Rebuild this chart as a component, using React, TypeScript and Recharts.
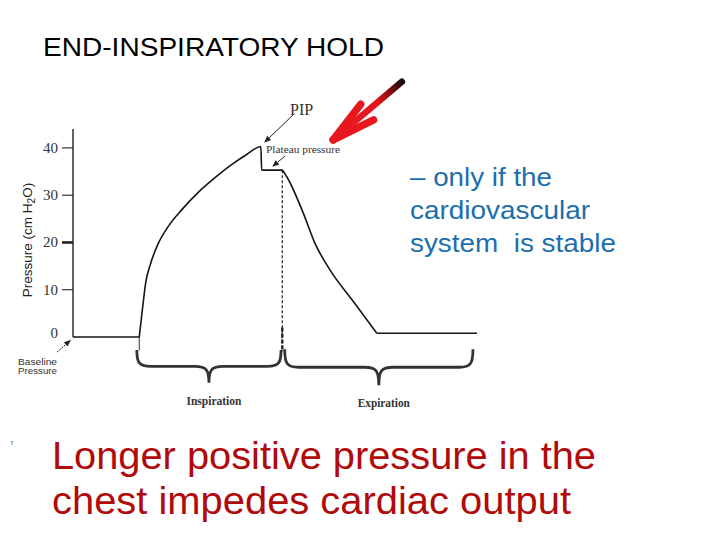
import React from 'react';
import { LineChart, Line, XAxis, YAxis, ReferenceLine, ReferenceArea } from 'recharts';

// ---- data (time in arbitrary units, pressure in cm H2O) ----
const timeValues = [0, 16.4, 17.2, 18.0, 19.2, 21.0, 23.5, 27.0, 31.0, 35.0, 39.0, 43.0, 46.5, 46.7, 51.7, 52.9, 57.0, 59.9, 63.6, 69.4, 75.2, 100];
const pressureValues = [0, 0, 6.0, 11.5, 15.5, 19.6, 23.3, 27.0, 30.6, 33.6, 36.3, 38.6, 40.3, 35.3, 35.3, 33.9, 26.2, 19.8, 14.2, 7.5, 0.8, 0.8];
const breathStart = 16.4;
const breathEnd = 75.2;
const yTicks = [0, 10, 20, 30, 40];
const phaseLabels = ['Inspiration', 'Expiration'];
const phaseStart = [15.8, 52.4];
const phaseEnd = [51.5, 99.0];
const phaseTop = [-2.75, -2.6];
const phaseTip = [-9.7, -10.2];
const plateauTime = 51.8;
const plateauValue = 35.3;

const data = timeValues.map((t, i) => ({
  t,
  breath: t >= breathStart && t <= breathEnd ? pressureValues[i] : null,
  base: t <= breathStart || t >= breathEnd ? pressureValues[i] : null,
}));

const YTick = (props: any) => {
  const { x, y, payload } = props;
  const v = payload.value;
  return (
    <g>
      {v !== 0 && (
        <line x1={x + 3} x2={x + 14} y1={y} y2={y} stroke="#222" strokeWidth={v === 20 ? 2.6 : 1.1} />
      )}
      <text x={x - 1} y={v === 0 ? y - 4 : y} textAnchor="end" dominantBaseline="central"
        fontFamily="'Liberation Serif', serif" fontSize={15} fill="#333">{v}</text>
    </g>
  );
};

const ThinArrow = (p: any) => {
  const { x1, y1, x2, y2 } = p;
  const ang = Math.atan2(y2 - y1, x2 - x1);
  const L = 7, W = 2.8;
  const bx = x2 - L * Math.cos(ang), by = y2 - L * Math.sin(ang);
  const px = -Math.sin(ang) * W, py = Math.cos(ang) * W;
  return (
    <g>
      <line x1={x1} y1={y1} x2={bx} y2={by} stroke="#222" strokeWidth={1} strokeDasharray={p.dash} />
      <polygon points={`${x2},${y2} ${bx + px},${by + py} ${bx - px},${by - py}`} fill="#222" />
    </g>
  );
};

const RedArrow = (p: any) => {
  const { x1, y1, x2, y2 } = p; // tail -> tip
  const dx = x1 - x2, dy = y1 - y2;
  const base = Math.atan2(dy, dx);
  const wl = 45;
  const a1 = base - (12 * Math.PI) / 180;
  const a2 = base + (14 * Math.PI) / 180;
  const w1 = [x2 + wl * Math.cos(a1), y2 + wl * Math.sin(a1)];
  const w2 = [x2 + wl * Math.cos(a2), y2 + wl * Math.sin(a2)];
  return (
    <g>
      <defs>
        <linearGradient id="redArrowGrad" gradientUnits="userSpaceOnUse" x1={x1} y1={y1} x2={x2} y2={y2}>
          <stop offset="0" stopColor="#1a0a0a" />
          <stop offset="0.18" stopColor="#8a0c10" />
          <stop offset="0.35" stopColor="#e3161c" />
          <stop offset="1" stopColor="#ee1c24" />
        </linearGradient>
      </defs>
      <line x1={x1} y1={y1} x2={x2} y2={y2} stroke="url(#redArrowGrad)" strokeWidth={6.5} strokeLinecap="round" />
      <line x1={x2} y1={y2} x2={w1[0]} y2={w1[1]} stroke="#e8161d" strokeWidth={7.5} strokeLinecap="round" />
      <line x1={x2} y1={y2} x2={w2[0]} y2={w2[1]} stroke="#e8161d" strokeWidth={7.5} strokeLinecap="round" />
    </g>
  );
};

const Brace = (props: any) => {
  const { x, y, width, height, caption, capWidth } = props;
  const ym = y + height * 0.5;
  const cx = x + width / 2;
  const y1 = y + height;
  const r = 14;
  const d = `M${x},${y} C${x},${ym - 4} ${x + 2},${ym} ${x + r},${ym} L${cx - r},${ym} C${cx - 3},${ym} ${cx},${ym + 3} ${cx},${y1} C${cx},${ym + 3} ${cx + 3},${ym} ${cx + r},${ym} L${x + width - r},${ym} C${x + width - 2},${ym} ${x + width},${ym - 4} ${x + width},${y}`;
  return (
    <g>
      <path d={d} fill="none" stroke="#333" strokeWidth={2.8} />
      <text x={cx + 5} y={y1 + 22} textAnchor="middle" fontFamily="'Liberation Serif', serif" fontWeight="bold"
        fontSize={11.5} fill="#333" textLength={capWidth} lengthAdjust="spacingAndGlyphs">{caption}</text>
    </g>
  );
};

const captionWidths = [55, 52];

export default function App() {
  return (
    <div style={{ position: 'absolute', left: 0, top: 0, width: 720, height: 540, background: '#fff' }}>
      <div style={{ position: 'absolute', left: 0, top: 0 }}>
        <LineChart width={720} height={540} data={data} margin={{ top: 129, right: 243, bottom: 203, left: 23 }}>
          <XAxis dataKey="t" type="number" domain={[0, 100]} hide />
          <YAxis type="number" domain={[0, 44]} ticks={yTicks} width={50} tickSize={11} tickMargin={3}
            tickLine={false} axisLine={{ stroke: '#222', strokeWidth: 1.4 }} tick={<YTick />} interval={0} />
          <ReferenceLine ifOverflow="visible" segment={[{ x: plateauTime, y: plateauValue }, { x: plateauTime, y: -3 }]}
            stroke="#222" strokeWidth={1.2} strokeDasharray="3 2" />
          <ReferenceLine ifOverflow="visible" segment={[{ x: plateauTime, y: 2 }, { x: plateauTime, y: -3 }]}
            stroke="#222" strokeWidth={2.4} strokeDasharray="4 2" />
          <ReferenceLine ifOverflow="visible" segment={[{ x: breathStart, y: 0 }, { x: breathStart, y: -2.8 }]}
            stroke="#333" strokeWidth={1} />
          {phaseLabels.map((lab, i) => (
            <ReferenceArea key={lab} ifOverflow="visible" x1={phaseStart[i]} x2={phaseEnd[i]} y1={phaseTip[i]} y2={phaseTop[i]}
              shape={(p: any) => <Brace {...p} caption={lab} capWidth={captionWidths[i]} />} />
          ))}
          <ReferenceLine ifOverflow="visible" segment={[{ x: 54.5, y: 47 }, { x: 47.3, y: 41.1 }]}
            shape={(p: any) => <ThinArrow {...p} />} />
          <ReferenceLine ifOverflow="visible" segment={[{ x: 52.5, y: 38.3 }, { x: 49.3, y: 36.0 }]}
            shape={(p: any) => <ThinArrow {...p} />} />
          <ReferenceLine ifOverflow="visible" segment={[{ x: -3.96, y: -3.2 }, { x: -0.5, y: -0.6 }]}
            shape={(p: any) => <ThinArrow {...p} dash="2 1" />} />
          <ReferenceLine ifOverflow="visible" segment={[{ x: 81.4, y: 54.0 }, { x: 64.4, y: 41.7 }]}
            shape={(p: any) => <RedArrow {...p} />} />
          <Line type="linear" dataKey="base" stroke="#151515" strokeWidth={1.6} dot={false} isAnimationActive={false} />
          <Line type="monotone" dataKey="breath" stroke="#151515" strokeWidth={1.6} dot={false} isAnimationActive={false} />
        </LineChart>
      </div>
      <svg width={720} height={540} style={{ position: 'absolute', left: 0, top: 0, pointerEvents: 'none' }}>
        <text x={43} y={56} fontFamily="'Liberation Sans', Arial, sans-serif" fontSize={25} fill="#000"
          textLength={341} lengthAdjust="spacingAndGlyphs">END-INSPIRATORY HOLD</text>

        <text x={290} y={115} fontFamily="'Liberation Serif', serif" fontSize={16} fill="#333">PIP</text>
        <text x={266} y={153} fontFamily="'Liberation Serif', serif" fontSize={11} fill="#333"
          textLength={74} lengthAdjust="spacingAndGlyphs">Plateau pressure</text>

        <text x={32} y={240} transform="rotate(-90, 32, 240)" textAnchor="middle"
          fontFamily="'Liberation Sans', Arial, sans-serif" fontSize={13.5} fill="#222">
          Pressure (cm H<tspan dy={3} fontSize={10}>2</tspan><tspan dy={-3}>O)</tspan>
        </text>

        <text x={18} y={365} fontFamily="'Liberation Sans', Arial, sans-serif" fontSize={9} fill="#333"
          textLength={39} lengthAdjust="spacingAndGlyphs">Baseline</text>
        <text x={18} y={374} fontFamily="'Liberation Sans', Arial, sans-serif" fontSize={9} fill="#333"
          textLength={39} lengthAdjust="spacingAndGlyphs">Pressure</text>

        <text fontFamily="'Liberation Sans', Arial, sans-serif" fontSize={25} fill="#1b6fae" style={{ whiteSpace: 'pre' }}>
          <tspan x={410} y={186} textLength={142} lengthAdjust="spacingAndGlyphs">– only if the</tspan>
          <tspan x={410} y={219} textLength={180} lengthAdjust="spacingAndGlyphs">cardiovascular</tspan>
          <tspan x={410} y={252} textLength={206} lengthAdjust="spacingAndGlyphs">{'system  is stable'}</tspan>
        </text>

        <text x={11} y={445} fontFamily="'Liberation Sans', Arial, sans-serif" fontSize={7} fill="#444">r</text>

        <text fontFamily="'Liberation Sans', Arial, sans-serif" fontSize={38} fill="#b00a0a">
          <tspan x={52} y={469} textLength={544} lengthAdjust="spacingAndGlyphs">Longer positive pressure in the</tspan>
          <tspan x={52} y={514} textLength={519} lengthAdjust="spacingAndGlyphs">chest impedes cardiac output</tspan>
        </text>
      </svg>
    </div>
  );
}
